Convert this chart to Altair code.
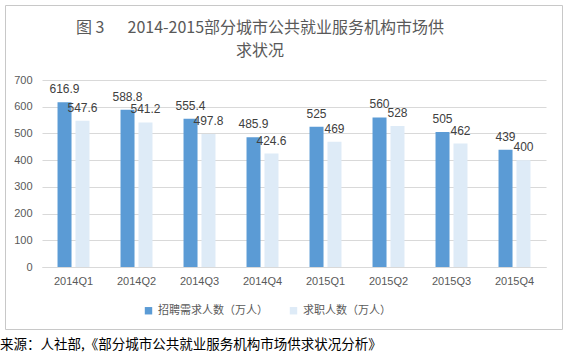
import altair as alt
import pandas as pd

quarters = ["2014Q1", "2014Q2", "2014Q3", "2014Q4", "2015Q1", "2015Q2", "2015Q3", "2015Q4"]
demand = [616.9, 588.8, 555.4, 485.9, 525, 560, 505, 439]
supply = [547.6, 541.2, 497.8, 424.6, 469, 528, 462, 400]
series = ["招聘需求人数（万人）", "求职人数（万人）"]
colors = ["#5B9BD5", "#DEEBF7"]
title_lines = ["图\u00a03\u3000\u00a0\u00a02014-2015部分城市公共就业服务机构市场供", "求状况"]
source_text = "来源：人社部,《部分城市公共就业服务机构市场供求状况分析》"

rows = []
for q, d, s in zip(quarters, demand, supply):
    rows.append({"q": q, "series": series[0], "v": d, "lab": f"{d:g}"})
    rows.append({"q": q, "series": series[1], "v": s, "lab": f"{s:g}"})
df = pd.DataFrame(rows)

FONT = "Liberation Sans, Noto Sans CJK SC"

x = alt.X("q:N", sort=quarters, title=None,
          scale=alt.Scale(paddingInner=0.43, paddingOuter=0.215),
          axis=alt.Axis(labelAngle=0, ticks=False, domainColor="#D9D9D9",
                        labelColor="#595959", labelFontSize=11, labelPadding=8,
                        labelFont=FONT, grid=False))
xo = alt.XOffset("series:N", sort=series,
                 scale=alt.Scale(paddingInner=0.22, paddingOuter=0.11))
y = alt.Y("v:Q", title=None,
          scale=alt.Scale(domain=[0, 700]),
          axis=alt.Axis(values=[0, 100, 200, 300, 400, 500, 600, 700], ticks=False,
                        domain=False, gridColor="#D9D9D9", labelColor="#595959",
                        labelFontSize=11, labelPadding=10, labelFont=FONT))

base = alt.Chart(df)

bars = base.mark_bar().encode(
    x=x, xOffset=xo, y=y,
    color=alt.Color("series:N", sort=series,
                    scale=alt.Scale(domain=series, range=colors),
                    legend=alt.Legend(title=None, orient="none", legendX=101, legendY=225,
                                      direction="horizontal", symbolType="square",
                                      symbolSize=55, labelFontSize=11, labelColor="#595959",
                                      labelFont=FONT, columnPadding=20, symbolStrokeWidth=0)),
)

labels = base.mark_text(fontSize=12, color="#404040", baseline="middle", dy=-13, font=FONT).encode(
    x=x, xOffset=xo, y=y, text="lab:N"
)

tdf = pd.DataFrame({"t": title_lines})

# chart frame (decoration), given a field channel so it is kept in the layered chart
border = alt.Chart(tdf.iloc[[1]]).mark_rect(
    fill="transparent", stroke="#C8C8C8", strokeWidth=1
).encode(
    x=alt.value(-36.5), x2=alt.value(520.5), y=alt.value(-74.5), y2=alt.value(249.5),
    detail="t:N",
)

title1 = alt.Chart(tdf.iloc[[0]]).mark_text(
    align="center", baseline="middle", fontSize=16, color="#595959", font="Noto Sans CJK SC"
).encode(x=alt.value(218), y=alt.value(-52), text="t:N")
title2 = alt.Chart(tdf.iloc[[1]]).mark_text(
    align="center", baseline="middle", fontSize=16, color="#595959", font="Noto Sans CJK SC"
).encode(x=alt.value(218), y=alt.value(-29), text="t:N")

src = alt.Chart(pd.DataFrame({"t": [source_text]})).mark_text(
    align="left", baseline="middle", fontSize=13.5, color="#000000", font="Noto Sans CJK SC"
).encode(x=alt.value(-42), y=alt.value(265), text="t:N")

chart = alt.layer(border, bars, labels, title1, title2, src).properties(
    width=504, height=187,
    autosize=alt.AutoSizeParams(type="none"),
    padding={"left": 42, "top": 80, "right": 22, "bottom": 87},
    background="white",
).configure_view(stroke=None)

chart.save("out.html", embed_options={"renderer": "svg", "actions": False})
